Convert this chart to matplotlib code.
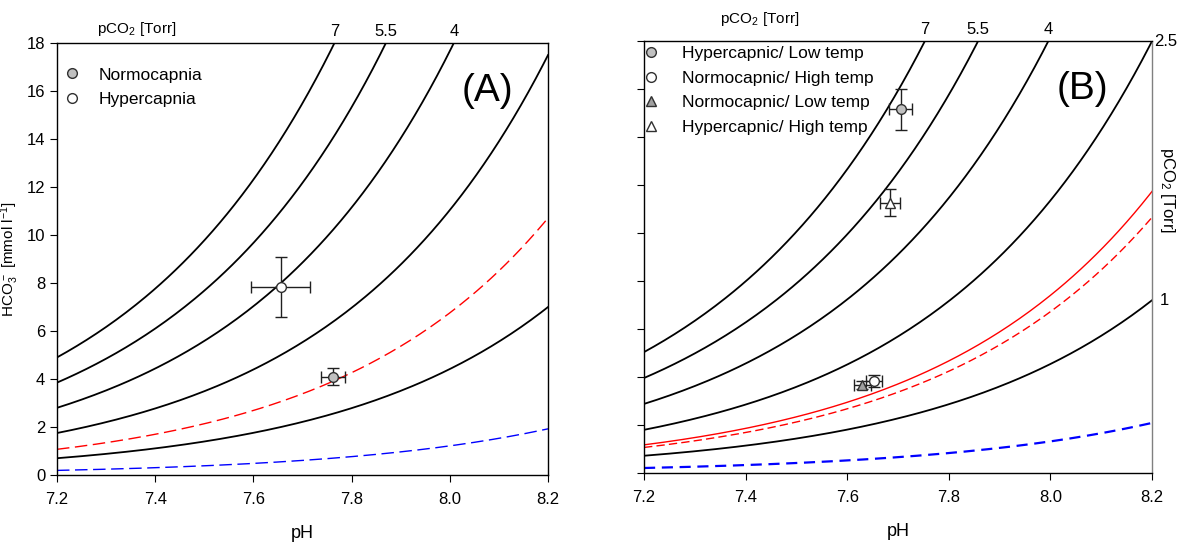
import numpy as np
import matplotlib
matplotlib.use('Agg')
import matplotlib.pyplot as plt
from matplotlib.lines import Line2D
import matplotlib.transforms as mtransforms

plt.rcParams['font.family'] = ['Liberation Sans', 'DejaVu Sans']
plt.rcParams['mathtext.default'] = 'regular'

# pH range of both panels
ph = np.linspace(7.2, 8.2, 200)

# isopleths, HCO3 = k * pCO2 * 10**(pH - 7.2)
k_a = 0.70
k_b = 0.72
iso_black = [7, 5.5, 4, 2.5, 1]
iso_labels_top = ['7', '5.5', '4']

# panel A extra isopleths (Torr)
a_red_dash = 1.53
a_blue_dash = 0.275

# panel B extra isopleths (Torr)
b_red_solid = 1.63
b_red_dash = 1.48
b_blue_dash = 0.29

# panel A data: pH, HCO3, pH err, HCO3 err
a_names = ['Normocapnia', 'Hypercapnia']
a_ph = [7.762, 7.656]
a_hco3 = [4.1, 7.85]
a_ph_err = [0.025, 0.06]
a_hco3_err = [0.36, 1.25]

# panel B data
b_names = ['Hypercapnic/ Low temp', 'Normocapnic/ High temp',
           'Normocapnic/ Low temp', 'Hypercapnic/ High temp']
b_ph = [7.705, 7.653, 7.63, 7.684]
b_hco3 = [15.15, 3.85, 3.67, 11.26]
b_ph_err = [0.022, 0.016, 0.016, 0.02]
b_hco3_err = [0.85, 0.25, 0.17, 0.57]

markers = ['o', 'o', '^', '^']
faces = ['#c0c0c0', 'white', '#a0a0a0', 'white']


def iso(k, p):
    return k * p * 10 ** (ph - 7.2)


def style_axes(ax, show_ylabels):
    ax.set_xlim(7.2, 8.2)
    ax.set_ylim(0, 18)
    ax.set_xticks([7.2, 7.4, 7.6, 7.8, 8.0, 8.2])
    ax.set_xticklabels(['7.2', '7.4', '7.6', '7.8', '8.0', '8.2'])
    ax.set_yticks(np.arange(0, 19, 2))
    if not show_ylabels:
        ax.set_yticklabels([])
    ax.tick_params(direction='out', length=5, labelsize=12, top=False, right=False)
    ax.tick_params(axis='x', pad=7)
    ax.set_xlabel('pH', fontsize=13, labelpad=13)
    for s in ax.spines.values():
        s.set_linewidth(1.0)


def top_labels(ax, k):
    trans = mtransforms.blended_transform_factory(ax.transData, ax.transAxes)
    for p, lab in zip(iso_black[:3], iso_labels_top):
        x = 7.2 + np.log10(18 / (k * p))
        ax.text(x, 1.01, lab, transform=trans, ha='center', va='bottom', fontsize=12)


def draw_points(ax, xs, ys, xe, ye, mk, fc):
    for i in range(len(xs)):
        ax.errorbar(xs[i], ys[i], xerr=xe[i], yerr=ye[i], fmt=mk[i], ms=7,
                    mfc=fc[i], mec='#303030', mew=1.0, ecolor='#202020',
                    elinewidth=1.0, capsize=4, capthick=1.0, zorder=5)


fig = plt.figure(figsize=(11.77, 5.44), dpi=100)
ax_a = fig.add_axes([0.0484, 0.1268, 0.4172, 0.794])
ax_b = fig.add_axes([0.5472, 0.1305, 0.4316, 0.794])

# panel A
for p in iso_black:
    ax_a.plot(ph, iso(k_a, p), color='black', lw=1.3)
ax_a.plot(ph, iso(k_a, a_red_dash), color='red', lw=1.0, dashes=(9, 4))
ax_a.plot(ph, iso(k_a, a_blue_dash), color='blue', lw=1.0, dashes=(9, 4))
draw_points(ax_a, a_ph, a_hco3, a_ph_err, a_hco3_err, ['o', 'o'], faces[:2])
style_axes(ax_a, True)
ax_a.set_ylabel('HCO$_3^-$ [mmol l$^{-1}$]', fontsize=11, labelpad=4)
top_labels(ax_a, k_a)
ax_a.text(0.163, 1.012, 'pCO$_2$ [Torr]', transform=ax_a.transAxes, ha='center',
          va='bottom', fontsize=11)
ax_a.text(0.877, 0.89, '(A)', transform=ax_a.transAxes, ha='center', va='center',
          fontsize=28)
h_a = [Line2D([], [], ls='none', marker='o', ms=7, mfc=faces[i], mec='#303030')
       for i in range(2)]
ax_a.legend(h_a, a_names, loc='upper left', bbox_to_anchor=(-0.018, 0.98),
            frameon=False, fontsize=12.5, handlelength=1.0, handletextpad=1.0,
            labelspacing=0.55)

# panel B
for p in iso_black:
    ax_b.plot(ph, iso(k_b, p), color='black', lw=1.3)
ax_b.plot(ph, iso(k_b, b_red_solid), color='red', lw=1.0)
ax_b.plot(ph, iso(k_b, b_red_dash), color='red', lw=1.0, dashes=(6, 3))
ax_b.plot(ph, iso(k_b, b_blue_dash), color='blue', lw=1.6, dashes=(5, 3))
draw_points(ax_b, b_ph, b_hco3, b_ph_err, b_hco3_err, markers, faces)
style_axes(ax_b, False)
ax_b.spines['right'].set_color('#808080')
top_labels(ax_b, k_b)
ax_b.text(0.227, 1.03, 'pCO$_2$ [Torr]', transform=ax_b.transAxes, ha='center',
          va='bottom', fontsize=11)
trans_b = mtransforms.blended_transform_factory(ax_b.transAxes, ax_b.transData)
ax_b.text(1.005, k_b * 2.5 * 10, '2.5', transform=trans_b, ha='left', va='center',
          fontsize=12)
ax_b.text(1.015, k_b * 1 * 10, '1', transform=trans_b, ha='left', va='center',
          fontsize=12)
ax_b.text(1.03, 0.655, 'pCO$_2$ [Torr]', transform=ax_b.transAxes, rotation=-90,
          ha='center', va='center', fontsize=12)
ax_b.text(0.863, 0.89, '(B)', transform=ax_b.transAxes, ha='center', va='center',
          fontsize=28)
h_b = [Line2D([], [], ls='none', marker=markers[i], ms=7, mfc=faces[i], mec='#303030')
       for i in range(4)]
ax_b.legend(h_b, b_names, loc='upper left', bbox_to_anchor=(-0.035, 1.025),
            frameon=False, fontsize=12.5, handlelength=1.0, handletextpad=1.3,
            labelspacing=0.55)

fig.savefig('out.png', dpi=100)
